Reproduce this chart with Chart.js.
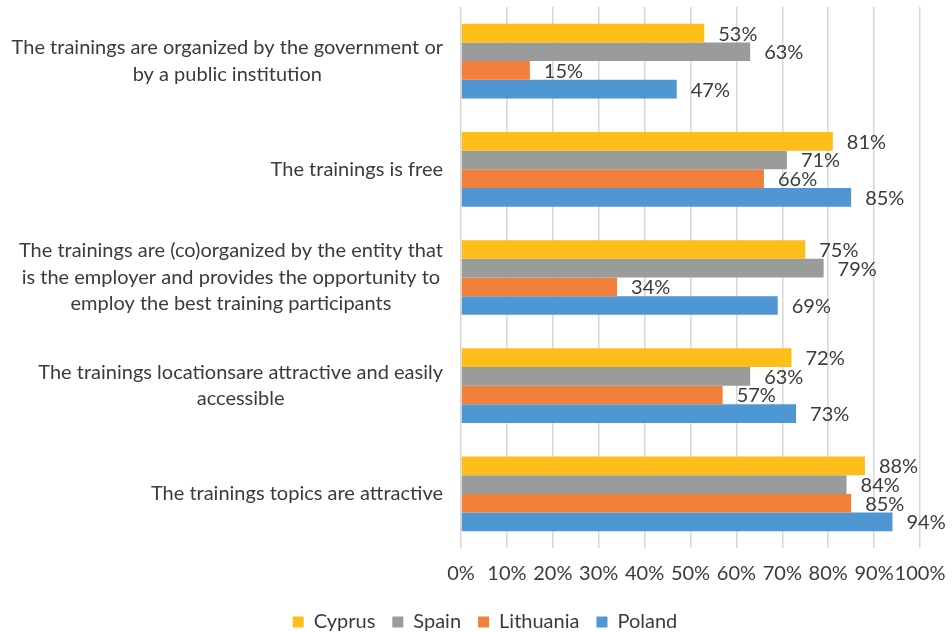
<!DOCTYPE html>
<html>
<head>
<meta charset="utf-8">
<script src="https://cdn.jsdelivr.net/npm/chart.js@4.4.1/dist/chart.umd.min.js"></script>
<style>
  html, body { margin: 0; padding: 0; background: #fff; }
  #wrap { width: 952px; height: 632px; }
</style>
</head>
<body>
<div id="wrap"><canvas id="chart"></canvas></div>
<script>
// ===== DATA =====
const categories = [
  ["The trainings are organized by the government or", "by a public institution"],
  ["The trainings is free"],
  ["The trainings are (co)organized by the entity that", "is the employer and provides the opportunity to", "employ the best training participants"],
  ["The trainings locationsare attractive and easily", "accessible"],
  ["The trainings topics are attractive"]
];
const countries = ["Cyprus", "Spain", "Lithuania", "Poland"];
const cyprus = [53, 81, 75, 72, 88];
const spain = [63, 71, 79, 63, 84];
const lithuania = [15, 66, 34, 57, 85];
const poland = [47, 85, 69, 73, 94];
const xTicks = [0, 10, 20, 30, 40, 50, 60, 70, 80, 90, 100];

const colors = ["#FDBE19", "#9A9C9C", "#F1813A", "#4F97D3"];
const textColor = "#3b3b3b";
const FONT = "Lato, 'Open Sans', sans-serif";

// ===== CATEGORY LABELS (right aligned block, centred lines) =====
const categoryLabels = {
  id: "categoryLabels",
  afterDraw(chart) {
    const ctx = chart.ctx;
    const y = chart.scales.y;
    const right = 443;
    const lineH = 26.5;
    ctx.save();
    ctx.font = "20px " + FONT;
    ctx.fillStyle = textColor;
    ctx.textAlign = "center";
    ctx.textBaseline = "middle";
    categories.forEach((lines, i) => {
      const w = Math.max(...lines.map(l => ctx.measureText(l).width));
      const cx = right - w / 2;
      const cy = y.getPixelForTick(i);
      const top = cy - (lines.length - 1) * lineH / 2;
      lines.forEach((l, j) => ctx.fillText(l, cx, top + j * lineH));
    });
    ctx.restore();
  }
};

// ===== VALUE LABELS =====
const valueLabels = {
  id: "valueLabels",
  afterDatasetsDraw(chart) {
    const ctx = chart.ctx;
    ctx.save();
    ctx.font = "20px " + FONT;
    ctx.fillStyle = textColor;
    ctx.textAlign = "left";
    ctx.textBaseline = "middle";
    chart.data.datasets.forEach((ds, di) => {
      chart.getDatasetMeta(di).data.forEach((bar, i) => {
        ctx.fillText(ds.data[i] + "%", bar.x + 14, bar.y + 1);
      });
    });
    ctx.restore();
  }
};

new Chart(document.getElementById("chart"), {
  type: "bar",
  data: {
    labels: categories.map(c => c.join(" ")),
    datasets: [cyprus, spain, lithuania, poland].map((d, i) => ({
      label: countries[i],
      data: d,
      backgroundColor: colors[i],
      borderWidth: 0,
      barPercentage: 1,
      categoryPercentage: 0.69
    }))
  },
  options: {
    indexAxis: "y",
    responsive: true,
    maintainAspectRatio: false,
    animation: false,
    layout: { padding: { top: 7, right: 32, bottom: -10, left: 50 } },
    scales: {
      x: {
        min: 0,
        max: 100,
        afterBuildTicks: (scale) => { scale.ticks = xTicks.map(v => ({ value: v })); },
        afterFit: (scale) => {
          scale.height -= 5;
          scale.paddingLeft = 0;
          scale.paddingRight = 0;
        },
        ticks: {
          callback: (v) => v + "%",
          color: textColor,
          font: { size: 20, family: FONT },
          padding: 14,
          maxRotation: 0,
          autoSkip: false
        },
        grid: { color: "#d6d6d6", lineWidth: 1.5, drawTicks: false },
        border: { display: false }
      },
      y: {
        ticks: { display: false },
        grid: { display: false },
        border: { display: false },
        afterFit: (scale) => { scale.width = 411; }
      }
    },
    plugins: {
      legend: {
        position: "bottom",
        labels: {
          color: textColor,
          font: { size: 20, family: FONT },
          boxWidth: 11,
          boxHeight: 11,
          padding: 17
        }
      },
      tooltip: { enabled: false }
    }
  },
  plugins: [categoryLabels, valueLabels]
});
</script>
</body>
</html>
